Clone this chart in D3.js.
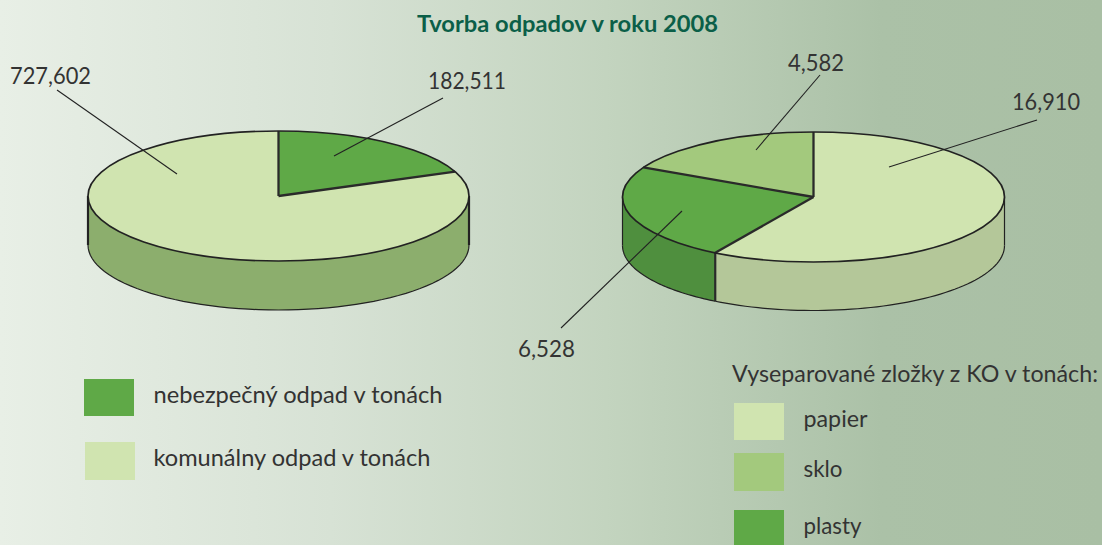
<!DOCTYPE html>
<html><head><meta charset="utf-8">
<script src="https://cdn.jsdelivr.net/npm/d3@7/dist/d3.min.js"></script>
<style>html,body{margin:0;padding:0;overflow:hidden}svg{display:block}
text{font-family:Lato,"Noto Sans",sans-serif;fill:#333}</style></head>
<body><script>
// Data
const chartTitle = "Tvorba odpadov v roku 2008";
const wasteCategories = ["nebezpečný odpad v tonách", "komunálny odpad v tonách"];
const wasteValues = [182511, 727602];
const wasteDrawnShares = [18.9, 81.1];
const sortedTitle = "Vyseparované zložky z KO v tonách:";
const sortedCategories = ["papier", "plasty", "sklo"];
const sortedValues = [16910, 6528, 4582];
const sortedDrawnShares = [58.6, 23.9, 17.5];
const legendOrder = ["papier", "sklo", "plasty"];

// Styles and layout
const W = 1102, H = 545;
const topColor = {"nebezpečný odpad v tonách":"#5fa947","komunálny odpad v tonách":"#d0e4b0",papier:"#d0e4b0",plasty:"#5fa947",sklo:"#a3c97d"};
const leftWall = {"nebezpečný odpad v tonách":"#4f8f3e","komunálny odpad v tonách":"#8cae6d"};
const rightWall = {papier:"#b4c799",plasty:"#4f8f3e",sklo:"#86a866"};
const fmt = d3.format(",");

const svg = d3.select("body").append("svg").attr("width",W).attr("height",H);
const grad = svg.append("defs").append("linearGradient").attr("id","bg");
[[0,"#e8efe6"],[.3,"#d7e2d5"],[.55,"#c3d4bf"],[.8,"#abc1a7"],[1,"#a9bfa4"]].forEach(([o,c])=>
  grad.append("stop").attr("offset",o).attr("stop-color",c));
svg.append("rect").attr("width",W).attr("height",H).attr("fill","url(#bg)");

svg.append("text").attr("x",567.5).attr("y",32).attr("text-anchor","middle")
  .style("font-weight",700).style("font-size","23px").style("fill","#0b5f48")
  .attr("textLength",301).attr("lengthAdjust","spacingAndGlyphs")
  .text(chartTitle);

function drawPie(cfg){
  const {cx,cy,rx,ry,depth,cats,shares,walls,sideW}=cfg;
  const g = svg.append("g");
  const arcs = d3.pie().sort(null).value(d=>d.s)(cats.map((c,i)=>({c,s:shares[i]})));
  const px = d3.scaleLinear().domain([-1,1]).range([cx-rx,cx+rx]);
  const py = d3.scaleLinear().domain([-1,1]).range([cy-ry,cy+ry]);
  const pt = (a,dy=0)=>[px(Math.sin(a)),py(-Math.cos(a))+dy];
  const line = d3.line();
  const front = [Math.PI/2,3*Math.PI/2];
  arcs.forEach(d=>{
    const a0=Math.max(d.startAngle,front[0]),a1=Math.min(d.endAngle,front[1]);
    if(a1<=a0) return;
    const as=d3.range(0,61).map(i=>a0+(a1-a0)*i/60);
    const top=as.map(a=>pt(a)),bot=as.map(a=>pt(a,depth)).reverse();
    g.append("path").attr("d",line(top.concat(bot))+"Z").attr("fill",walls[d.data.c]).attr("stroke","none");
    g.append("path").attr("d",line(as.map(a=>pt(a,depth)))).attr("fill","none").attr("stroke","#222").attr("stroke-width",1.2);
  });
  [front[0],front[1]].forEach(a=>g.append("path").attr("d",line([pt(a),pt(a,depth)])).attr("stroke","#222").attr("stroke-width",sideW));
  arcs.forEach(d=>{
    if(d.startAngle>front[0]&&d.startAngle<front[1])
      g.append("path").attr("d",line([pt(d.startAngle),pt(d.startAngle,depth)])).attr("stroke","#2a2a2a").attr("stroke-width",2.2);
  });
  const arcGen=d3.arc().innerRadius(0).outerRadius(1);
  const tops=g.append("g").attr("transform",`translate(${cx},${cy}) scale(${rx},${ry})`);
  tops.selectAll("path").data(arcs).join("path").attr("d",arcGen).attr("fill",d=>topColor[d.data.c]);
  arcs.forEach(d=>g.append("path").attr("d",line([[cx,cy],pt(d.startAngle)])).attr("stroke","#2a2a2a").attr("stroke-width",2.3).attr("fill","none"));
  g.append("ellipse").attr("cx",cx).attr("cy",cy).attr("rx",rx).attr("ry",ry).attr("fill","none").attr("stroke","#222").attr("stroke-width",1.7);
}
function leader(x1,y1,x2,y2){svg.append("line").attr("x1",x1).attr("y1",y1).attr("x2",x2).attr("y2",y2).attr("stroke","#222").attr("stroke-width",1.1);}
function label(x,y,t,width){const s=svg.append("text").attr("x",x).attr("y",y).style("font-size","23px").text(t);
  if(width) s.attr("textLength",width).attr("lengthAdjust","spacingAndGlyphs"); return s;}

drawPie({cx:278.5,cy:196,rx:190.5,ry:65,depth:49,cats:wasteCategories,shares:wasteDrawnShares,walls:leftWall,sideW:2.2});
drawPie({cx:813.5,cy:197,rx:191,ry:65,depth:48.5,cats:sortedCategories,shares:sortedDrawnShares,walls:rightWall,sideW:1.2});

leader(57,90,177,174); leader(443,98,334,156);
leader(820,75,756,150); leader(1037,120,889,167); leader(682,211,561,328);
label(10,84,fmt(wasteValues[1]),81);
label(428,89,fmt(wasteValues[0]),78);
label(788,71,fmt(sortedValues[2]),56);
label(1012,110,fmt(sortedValues[0]),68);
label(518,357,fmt(sortedValues[1]),57);

const leftLegY = d3.scalePoint().domain(wasteCategories).range([379,442]);
const leftLegW = {"nebezpečný odpad v tonách":289,"komunálny odpad v tonách":277};
wasteCategories.forEach((c,i)=>{
  svg.append("rect").attr("x",84+i).attr("y",leftLegY(c)).attr("width",50).attr("height",37+i).attr("fill",topColor[c]);
  label(153.5,leftLegY(c)+24,c,leftLegW[c]);
});
label(732,382,sortedTitle,366);
const rightLegY = d3.scaleOrdinal().domain(legendOrder).range([403,453,510]);
const rightLegH = d3.scaleOrdinal().domain(legendOrder).range([37,38,35]);
const rightLegW = {papier:64,sklo:39,plasty:58};
legendOrder.forEach(c=>{
  svg.append("rect").attr("x",734).attr("y",rightLegY(c)).attr("width",50).attr("height",rightLegH(c)).attr("fill",topColor[c]);
  label(803.5,rightLegY(c)+24,c,rightLegW[c]);
});
</script></body></html>
